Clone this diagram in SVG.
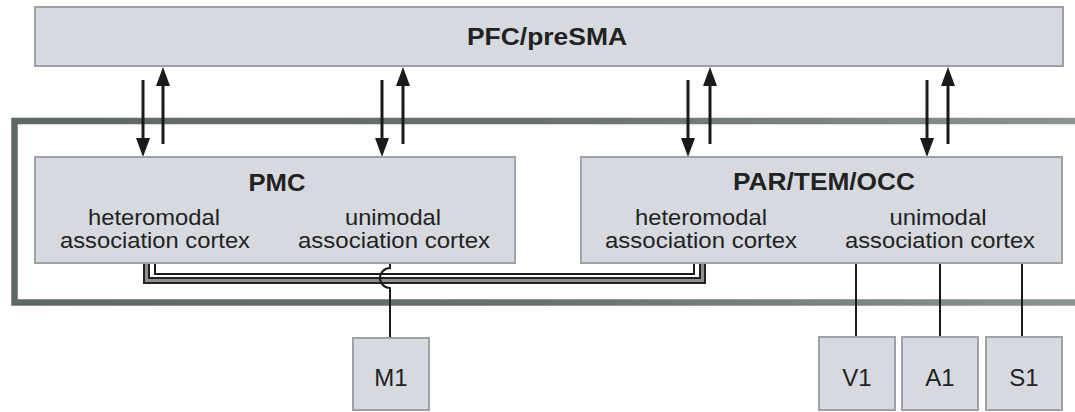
<svg xmlns="http://www.w3.org/2000/svg" width="1075" height="412" viewBox="0 0 1075 412">
<style>
.box{fill:#d6d9e0;stroke:#9ca2a8;stroke-width:2}
.t{font-family:"Liberation Sans",Arial,sans-serif;fill:#222;text-anchor:middle}
.n{font-size:22px}
.s{font-size:24px}
.b{font-size:24px;font-weight:bold}
.arr{stroke:#1a1a1a;stroke-width:3;fill:none}
.wire{stroke:#1a1a1a;stroke-width:2;fill:none}
</style>
<defs>
<marker id="ah" viewBox="0 0 19 14" refX="12" refY="7" markerUnits="userSpaceOnUse" markerWidth="19" markerHeight="14" orient="auto">
<path d="M0 0 L19 7 L0 14 Z" fill="#1a1a1a"/>
</marker>
<linearGradient id="fg" gradientUnits="userSpaceOnUse" x1="0" y1="0" x2="1075" y2="0">
<stop offset="0" stop-color="#5e6767"/>
<stop offset="0.5" stop-color="#69716f"/>
<stop offset="1" stop-color="#8b9393"/>
</linearGradient>
</defs>
<rect width="1075" height="412" fill="#fff"/>
<g id="frame">
<path d="M1075 121 H14.5 V302.5 H1075" fill="none" stroke="url(#fg)" stroke-width="6.5"/>
</g>
<g id="connectors">
<path class="arr" d="M143 80 V150" marker-end="url(#ah)"/>
<path class="arr" d="M163 144 V74" marker-end="url(#ah)"/>
<path class="arr" d="M382 80 V150" marker-end="url(#ah)"/>
<path class="arr" d="M403 144 V74" marker-end="url(#ah)"/>
<path class="arr" d="M688 80 V150" marker-end="url(#ah)"/>
<path class="arr" d="M710 144 V74" marker-end="url(#ah)"/>
<path class="arr" d="M927 80 V150" marker-end="url(#ah)"/>
<path class="arr" d="M948 144 V74" marker-end="url(#ah)"/>
<path d="M146.5 264 V280.5 H702.5 V264" fill="none" stroke="#222" stroke-width="7"/>
<path d="M146.5 264 V280.5 H702.5 V264" fill="none" stroke="#8a9090" stroke-width="3"/>
<path class="wire" d="M155 264 V274 H694 V264"/>
<path class="wire" d="M390 264 V268 A10 10 0 0 0 390 288 V338"/>
<path class="wire" d="M856 263 V337"/>
<path class="wire" d="M940 263 V337"/>
<path class="wire" d="M1022 263 V337"/>
</g>
<g id="pfc">
<rect class="box" x="35" y="7" width="1028" height="59"/>
<text class="t b" x="547" y="45" textLength="160" lengthAdjust="spacingAndGlyphs">PFC/preSMA</text>
</g>
<g id="pmc">
<rect class="box" x="35" y="157" width="480" height="106"/>
<text class="t b" x="277" y="191" textLength="57" lengthAdjust="spacingAndGlyphs">PMC</text>
<text class="t n" x="154" y="225" textLength="132" lengthAdjust="spacingAndGlyphs">heteromodal</text>
<text class="t n" x="155" y="248" textLength="190" lengthAdjust="spacingAndGlyphs">association cortex</text>
<text class="t n" x="393" y="225" textLength="96" lengthAdjust="spacingAndGlyphs">unimodal</text>
<text class="t n" x="394" y="248" textLength="192" lengthAdjust="spacingAndGlyphs">association cortex</text>
</g>
<g id="par">
<rect class="box" x="581" y="157" width="481" height="106"/>
<text class="t b" x="824" y="190" textLength="182" lengthAdjust="spacingAndGlyphs">PAR/TEM/OCC</text>
<text class="t n" x="701" y="225" textLength="132" lengthAdjust="spacingAndGlyphs">heteromodal</text>
<text class="t n" x="701" y="248" textLength="192" lengthAdjust="spacingAndGlyphs">association cortex</text>
<text class="t n" x="938" y="225" textLength="97" lengthAdjust="spacingAndGlyphs">unimodal</text>
<text class="t n" x="940" y="248" textLength="190" lengthAdjust="spacingAndGlyphs">association cortex</text>
</g>
<g id="m1">
<rect class="box" x="353" y="338" width="76" height="72"/>
<text class="t s" x="391" y="386">M1</text>
</g>
<g id="v1">
<rect class="box" x="819" y="337" width="76" height="73"/>
<text class="t s" x="857" y="386">V1</text>
</g>
<g id="a1">
<rect class="box" x="902" y="337" width="76" height="73"/>
<text class="t s" x="940" y="386">A1</text>
</g>
<g id="s1">
<rect class="box" x="986" y="337" width="76" height="73"/>
<text class="t s" x="1024" y="386">S1</text>
</g>
</svg>
